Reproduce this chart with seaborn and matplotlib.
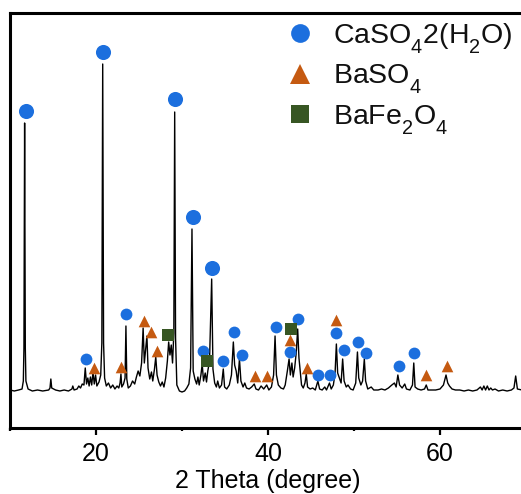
import matplotlib
matplotlib.use("Agg")
import matplotlib.pyplot as plt
from matplotlib.lines import Line2D
from matplotlib.ticker import MultipleLocator
import numpy as np
import pandas as pd
import seaborn as sns

# XRD pattern (2 theta in degrees, intensity in arbitrary units)
two_theta = [
    10.0, 10.5, 11.0, 11.4, 11.55, 11.62, 11.7, 11.78, 11.85, 12.1,
    12.6, 13.2, 13.8, 14.5, 14.65, 14.75, 14.85, 15.3, 15.8, 16.3,
    16.8, 17.2, 17.3, 17.45, 17.8, 18.0, 18.2, 18.4, 18.6, 18.75,
    18.9, 19.05, 19.2, 19.35, 19.5, 19.65, 19.8, 19.95, 20.1, 20.35,
    20.55, 20.68, 20.78, 20.88, 21.0, 21.2, 21.45, 21.7, 21.95, 22.2,
    22.45, 22.65, 22.8, 22.9, 23.0, 23.2, 23.38, 23.48, 23.58, 23.75,
    24.0, 24.25, 24.5, 24.7, 24.9, 25.1, 25.3, 25.48, 25.62, 25.78,
    25.92, 26.05, 26.25, 26.45, 26.6, 26.8, 26.95, 27.1, 27.3, 27.5,
    27.7, 27.9, 28.1, 28.3, 28.45, 28.6, 28.75, 28.9, 29.05, 29.15,
    29.25, 29.4, 29.7, 30.0, 30.3, 30.55, 30.8, 31.0, 31.16, 31.3,
    31.5, 31.7, 31.85, 32.0, 32.2, 32.35, 32.5, 32.7, 32.85, 33.0,
    33.2, 33.45, 33.6, 33.8, 34.0, 34.15, 34.35, 34.6, 34.8, 34.95,
    35.2, 35.5, 35.75, 35.97, 36.12, 36.3, 36.48, 36.68, 36.85, 37.1,
    37.3, 37.5, 37.8, 38.1, 38.4, 38.6, 38.9, 39.2, 39.5, 39.85,
    40.1, 40.4, 40.65, 40.82, 40.98, 41.2, 41.5, 41.8, 42.0, 42.25,
    42.45, 42.6, 42.78, 42.92, 43.1, 43.28, 43.45, 43.6, 43.75, 43.9,
    44.1, 44.3, 44.45, 44.6, 44.9, 45.2, 45.5, 45.8, 46.0, 46.3,
    46.6, 46.8, 47.15, 47.35, 47.6, 47.8, 47.95, 48.1, 48.3, 48.5,
    48.68, 48.85, 49.1, 49.3, 49.6, 49.9, 50.2, 50.4, 50.55, 50.8,
    51.0, 51.2, 51.35, 51.6, 52.0, 52.3, 52.8, 53.2, 53.6, 54.0,
    54.4, 54.7, 54.9, 55.1, 55.3, 55.6, 55.9, 56.1, 56.5, 56.8,
    56.95, 57.1, 57.4, 57.8, 58.2, 58.4, 58.6, 59.0, 59.5, 60.0,
    60.4, 60.7, 60.9, 61.1, 61.4, 61.8, 62.3, 62.8, 63.3, 63.8,
    64.3, 64.7, 64.9, 65.1, 65.3, 65.5, 65.7, 65.9, 66.1, 66.4,
    66.8, 67.3, 67.8, 68.3, 68.6, 68.8, 69.0, 69.5, 70.0,
]
intensity = [
    3, 2, 3, 4, 12, 45, 270, 45, 12, 4,
    2, 3, 2, 3, 5, 14, 5, 3, 2, 3,
    2, 4, 7, 3, 4, 7, 5, 9, 8, 25,
    9, 15, 7, 16, 8, 21, 9, 18, 7, 11,
    18, 50, 329, 50, 15, 7, 10, 5, 8, 4,
    7, 5, 10, 19, 6, 9, 15, 67, 14, 5,
    7, 12, 9, 16, 22, 17, 30, 65, 30, 45,
    57, 25, 14, 21, 12, 24, 36, 18, 11, 7,
    11, 6, 15, 32, 51, 38, 48, 30, 60, 281,
    55, 8, 2, 1, 2, 5, 9, 25, 164, 22,
    14, 9, 16, 8, 18, 29, 12, 20, 11, 22,
    32, 114, 24, 10, 6, 12, 5, 8, 24, 6,
    4, 8, 18, 51, 28, 22, 10, 34, 12, 6,
    10, 5, 4, 6, 9, 4, 3, 7, 4, 8,
    3, 6, 18, 57, 18, 8, 5, 4, 8, 22,
    34, 18, 30, 16, 25, 40, 64, 35, 22, 8,
    5, 10, 19, 6, 4, 5, 3, 12, 4, 3,
    6, 3, 10, 4, 8, 20, 49, 20, 15, 10,
    34, 12, 6, 8, 4, 3, 10, 41, 15, 8,
    12, 34, 12, 4, 6, 3, 3, 4, 3, 5,
    8, 10, 6, 18, 8, 5, 9, 4, 3, 8,
    30, 6, 4, 3, 4, 8, 3, 3, 3, 4,
    8, 18, 10, 7, 4, 3, 3, 2, 3, 2,
    3, 6, 3, 7, 3, 7, 3, 5, 3, 4,
    2, 3, 2, 3, 5, 17, 4, 3, 3,
]

# Phase identification markers
caso4_theta = [11.9, 20.8, 29.2, 31.3, 33.5, 18.8, 23.5, 32.4, 34.8, 36.0, 36.95,
               40.9, 42.6, 43.5, 45.8, 47.2, 47.9, 48.8, 50.5, 51.4, 55.2, 57.0]
caso4_level = [282, 341, 294, 176, 125, 34, 79, 42, 32, 61, 38,
               66, 41, 74, 18, 18, 60, 43, 51, 40, 27, 40]
baso4_theta = [19.8, 22.9, 25.6, 26.4, 27.1, 38.5, 39.9, 42.6, 44.5, 47.9, 58.4, 60.8]
baso4_level = [25, 26, 72, 61, 42, 17, 17, 53, 25, 73, 18, 27]
bafe2o4_theta = [28.4, 32.9, 42.65]
bafe2o4_level = [58, 32, 64]

phase_labels = [r"CaSO$_4$2(H$_2$O)", r"BaSO$_4$", r"BaFe$_2$O$_4$"]
x_ticks = [20, 40, 60]

sns.set_theme(style="white")
plt.rcParams["font.family"] = ["Liberation Sans", "DejaVu Sans"]
plt.rcParams["mathtext.fontset"] = "custom"
plt.rcParams["mathtext.rm"] = "Liberation Sans"
plt.rcParams["mathtext.it"] = "Liberation Sans:italic"
plt.rcParams["mathtext.default"] = "regular"

# Deeper subscripts for chemical formulas set in Liberation Sans
try:
    from matplotlib import _mathtext as _mt

    class _FormulaConstants(_mt.FontConstantsBase):
        subdrop = 0.7
        sub1 = 0.7

    _mt._font_constant_mapping["Liberation Sans"] = _FormulaConstants
except Exception:
    pass

blue = "#1c6fde"
orange = "#c55a11"
green = "#375623"

fig = plt.figure(figsize=(5.21, 4.94), dpi=100)
ax = fig.add_axes([10 / 521, 1 - 428 / 494, 516 / 521, 415 / 494])

pattern = pd.DataFrame({"two_theta": two_theta, "intensity": intensity})
sns.lineplot(data=pattern, x="two_theta", y="intensity", ax=ax, color="black",
             linewidth=1.0, estimator=None, sort=False)

caso4 = pd.DataFrame({"t": caso4_theta, "y": caso4_level})
strong = caso4["y"] > 100
sns.scatterplot(data=caso4[strong], x="t", y="y", ax=ax, color=blue, marker="o",
                s=118, linewidth=0, zorder=3)
sns.scatterplot(data=caso4[~strong], x="t", y="y", ax=ax, color=blue, marker="o",
                s=72, linewidth=0, zorder=3)
sns.scatterplot(x=baso4_theta, y=baso4_level, ax=ax, color=orange, marker="^",
                s=70, linewidth=0, zorder=3)
sns.scatterplot(x=bafe2o4_theta, y=bafe2o4_level, ax=ax, color=green, marker="s",
                s=70, linewidth=0, zorder=3)

ax.set_xlim(10, 70)
ax.set_ylim(-35, 380)
ax.set_yticks([])
ax.set_ylabel("")
ax.set_xticks(x_ticks)
ax.xaxis.set_minor_locator(MultipleLocator(10))
ax.tick_params(axis="x", which="major", direction="out", length=5, width=1.6,
               labelsize=18, pad=5, bottom=True, colors="black")
ax.tick_params(axis="x", which="minor", direction="out", length=2.5, width=1.6,
               bottom=True, colors="black")
ax.set_xlabel("2 Theta (degree)", fontsize=18, labelpad=2, color="black")
for sp in ax.spines.values():
    sp.set_linewidth(2.2)
    sp.set_color("black")

handles = [
    Line2D([], [], linestyle="none", marker="o", markersize=13.5, color=blue,
           markeredgewidth=0),
    Line2D([], [], linestyle="none", marker="^", markersize=15, color=orange,
           markeredgewidth=0),
    Line2D([], [], linestyle="none", marker="s", markersize=13, color=green,
           markeredgewidth=0),
]
leg = ax.legend(handles, phase_labels, loc="upper left",
                bbox_to_anchor=(286 / 521, 1 - 21 / 494),
                bbox_transform=fig.transFigure, frameon=False, fontsize=20.5,
                handlelength=1.0, handletextpad=0.66, labelspacing=0.25,
                borderpad=0, borderaxespad=0)
for t in leg.get_texts():
    t.set_color("#111111")

fig.savefig("out.png", dpi=100)
